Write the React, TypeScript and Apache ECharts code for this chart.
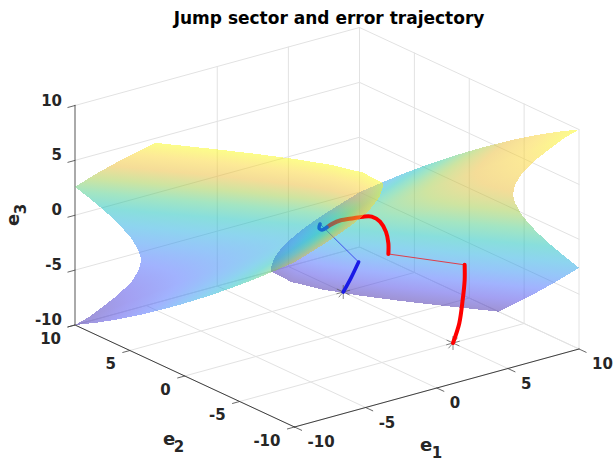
import React, { useEffect, useRef } from "react";
import * as echarts from "echarts";

const TITLE = "Jump sector and error trajectory";
const TICKS = [-10, -5, 0, 5, 10];
const LEFT_WALL_VERTICALS = [-10, 0, 5, 10];

// rim of the cone's nappes where they meet the box (e1, e2, e3); the apex is the origin
const LEFT_RIM = [
  [-10, 10, -10], [-10, 8, -8.86], [-10, 6, -7.61], [-10, 4, -6.28], [-10, 2, -4.86], [-10, 0, -3.38],
  [-10, -2, -1.83], [-10, -4, -0.22], [-10, -6, 1.46], [-10, -8, 3.21], [-10, -10, 5.01],
  [-9, -10, 5.45], [-8, -10, 5.9], [-7, -10, 6.39], [-6, -10, 6.96], [-5, -10, 7.67], [-4.5, -10, 8.16],
  [-4, -10, 8.88], [-3.8, -10, 9.58], [-3.78, -10, 10],
  [-3.65, -8, 10], [-4.32, -6, 10], [-5.39, -4, 10], [-6.66, -2, 10], [-8.05, 0, 10], [-9.5, 2, 10], [-10, 2.67, 10],
  [-10, 4, 8.74], [-10, 6, 6.79], [-10, 8, 4.75], [-10, 10, 2.6],
  [-9, 10, 1.21], [-8, 10, -0.22], [-7, 10, -1.76], [-6, 10, -3.58], [-5.5, 10, -4.93], [-5.35, 10, -5.7],
  [-5.5, 10, -6.54], [-6, 10, -7.44], [-7, 10, -8.35], [-8, 10, -8.99], [-9, 10, -9.61],
];
const RIGHT_RIM = [
  [10, -10, 10], [10, -8, 8.86], [10, -6, 7.61], [10, -4, 6.28], [10, -2, 4.86], [10, 0, 3.38],
  [10, 2, 1.83], [10, 4, 0.22], [10, 6, -1.46], [10, 8, -3.21], [10, 10, -5.01],
  [9, 10, -5.45], [8, 10, -5.9], [7, 10, -6.39], [6, 10, -6.96], [5, 10, -7.67], [4.5, 10, -8.16],
  [4, 10, -8.88], [3.8, 10, -9.58], [3.78, 10, -10],
  [3.65, 8, -10], [4.32, 6, -10], [5.39, 4, -10], [6.66, 2, -10], [8.05, 0, -10], [9.5, -2, -10], [10, -2.67, -10],
  [10, -4, -8.74], [10, -6, -6.79], [10, -8, -4.75], [10, -10, -2.6],
  [9, -10, -1.21], [8, -10, 0.22], [7, -10, 1.76], [6, -10, 3.58], [5.5, -10, 4.93], [5.35, -10, 5.7],
  [5.5, -10, 6.54], [6, -10, 7.44], [7, -10, 8.35], [8, -10, 8.99], [9, -10, 9.61],
];

// trajectories: continuous parts (thick) and the jumps between them (thin)
const RED_BEFORE = [[5, -5, -10], [4.98, -5.6, -7.91], [4.91, -6, -5.57], [4.74, -6.4, -3.52], [4.43, -6.8, -1.84]];
const RED_JUMP = [[4.43, -6.8, -1.84], [2.77, -2, -2.49]];
const RED_AFTER = [
  [2.77, -2, -2.49], [3.08, -1.6, -1.81], [3.22, -1.2, -1.01], [3.11, -0.8, -0.23], [2.68, -0.6, 0.29],
  [2.25, -0.4, 0.35], [1.7, -0.2, 0.31], [0.84, -0.1, 0.36], [0.33, 0, 0.17], [0, 0, 0],
];
const BLUE_BEFORE = [[5, 5, -10], [5.2, 4.56, -8.6], [5.4, 4.12, -7]];
const BLUE_JUMP = [[5.4, 4.12, -7], [-0.49, 0, 0.47]];
const BLUE_AFTER = [[-0.49, 0, 0.47], [-0.56, 0, 0.13], [-0.35, 0, -0.13], [0, 0, 0]];
const STARTS = [[5, 5, -10], [5, -5, -10]];

const PARULA = [
  [62, 38, 168], [71, 65, 229], [67, 102, 253], [45, 140, 243], [28, 170, 223], [18, 190, 185],
  [71, 203, 134], [158, 201, 66], [234, 186, 48], [250, 212, 46], [249, 251, 21],
];
const ALPHA = 0.5;

const WIDTH = 613;
const HEIGHT = 461;
const ORIGIN = [75, 325];
const STEP_E1 = [284.5, -78];
const STEP_E2 = [219.5, 102];
const STEP_E3 = 219.5;

function project(p: number[]) {
  const u = (p[0] + 10) / 20;
  const v = (10 - p[1]) / 20;
  const w = (p[2] + 10) / 20;
  return [
    ORIGIN[0] + STEP_E1[0] * u + STEP_E2[0] * v,
    ORIGIN[1] + STEP_E1[1] * u + STEP_E2[1] * v - STEP_E3 * w,
  ];
}

const stops = PARULA.map((c, i) => ({
  offset: i / (PARULA.length - 1),
  color: `rgba(${c[0]},${c[1]},${c[2]},${ALPHA})`,
}));

function solidColour(z: number) {
  const t = Math.max(0, Math.min(0.9999, (z + 10) / 20)) * (PARULA.length - 1);
  const i = Math.floor(t);
  const f = t - i;
  const c = PARULA[i].map((a, k) => Math.round(a + (PARULA[i + 1][k] - a) * f));
  return `rgba(${c[0]},${c[1]},${c[2]},${ALPHA})`;
}

// the colour is linear in e3, hence linear on each projected triangle: one exact gradient per facet
function facetFill(a: number[], b: number[], c: number[], pa: number[], pb: number[], pc: number[]) {
  const x1 = pb[0] - pa[0], y1 = pb[1] - pa[1], z1 = b[2] - a[2];
  const x2 = pc[0] - pa[0], y2 = pc[1] - pa[1], z2 = c[2] - a[2];
  const det = x1 * y2 - x2 * y1;
  if (Math.abs(det) < 3) return solidColour((a[2] + b[2] + c[2]) / 3);
  const gx = (z1 * y2 - z2 * y1) / det;
  const gy = (x1 * z2 - x2 * z1) / det;
  const n = gx * gx + gy * gy;
  if (n < 1e-7) return solidColour((a[2] + b[2] + c[2]) / 3);
  return {
    type: "linear",
    global: true,
    x: pa[0] + (gx * (-10 - a[2])) / n,
    y: pa[1] + (gy * (-10 - a[2])) / n,
    x2: pa[0] + (gx * (10 - a[2])) / n,
    y2: pa[1] + (gy * (10 - a[2])) / n,
    colorStops: stops,
  };
}

function sheetSeries(rim: number[][], z: number) {
  return {
    type: "custom",
    coordinateSystem: "cartesian2d",
    silent: true,
    clip: false,
    z,
    data: rim.map((_, i) => [i, 0]),
    encode: { x: 0, y: 1 },
    renderItem: (params: any, api: any) => {
      const i = params.dataIndex;
      const apex = [0, 0, 0];
      const a = rim[i];
      const b = rim[(i + 1) % rim.length];
      const pts = [apex, a, b].map((p) => {
        const q = project(p);
        return api.coord([q[0], q[1]]);
      });
      return {
        type: "polygon",
        shape: { points: pts },
        style: { fill: facetFill(apex, a, b, pts[0], pts[1], pts[2]) as any, stroke: "none" },
      };
    },
  };
}

function segmentSeries(segments: number[][][], stroke: string, lineWidth: number, z: number, smooth = 0) {
  return {
    type: "custom",
    coordinateSystem: "cartesian2d",
    silent: true,
    clip: false,
    z,
    data: segments.map((_, i) => [i, 0]),
    encode: { x: 0, y: 1 },
    renderItem: (params: any, api: any) => {
      const pts = segments[params.dataIndex].map((p) => {
        const q = project(p);
        return api.coord([q[0], q[1]]);
      });
      return {
        type: "polyline",
        shape: { points: pts, smooth },
        style: { fill: "none", stroke, lineWidth, lineCap: "round", lineJoin: "round" },
      };
    },
  };
}

function tickSegments() {
  const out: number[][][] = [];
  TICKS.forEach((t) => {
    out.push([[-10, t, -10], [-10.5, t, -10]]);
    out.push([[t, -10, -10], [t, -10.65, -10]]);
    out.push([[-10.5, 10, t], [-10, 10, t]]);
  });
  return out;
}

function gridSegments() {
  const out: number[][][] = [];
  TICKS.forEach((t) => {
    out.push([[t, 10, -10], [t, -10, -10]]);
    out.push([[-10, t, -10], [10, t, -10]]);
    out.push([[-10, 10, t], [10, 10, t]]);
    out.push([[10, t, -10], [10, t, 10]]);
    out.push([[10, 10, t], [10, -10, t]]);
  });
  LEFT_WALL_VERTICALS.forEach((t) => {
    out.push([[t, 10, -10], [t, 10, 10]]);
  });
  return out;
}

function starSegments() {
  const out: number[][][] = [];
  STARTS.forEach((s) => {
    out.push([[s[0] - 0.45, s[1], s[2]], [s[0] + 0.45, s[1], s[2]]]);
    out.push([[s[0], s[1], s[2] - 0.6], [s[0], s[1], s[2] + 0.6]]);
    out.push([[s[0], s[1] + 0.55, s[2]], [s[0], s[1] - 0.55, s[2]]]);
    out.push([[s[0] - 0.3, s[1], s[2] - 0.35], [s[0] + 0.3, s[1], s[2] + 0.35]]);
  });
  return out;
}

const FONT = "DejaVu Sans";
const INK = "#262626";

function labelElements() {
  const items: any[] = [];
  const add = (text: string, x: number, y: number, align: string, size: number, rotation = 0) =>
    items.push({
      type: "text",
      x,
      y,
      rotation,
      style: {
        text,
        fontFamily: FONT,
        fontWeight: "bold",
        fontSize: size,
        fill: INK,
        textAlign: align,
        textVerticalAlign: "middle",
      },
    });
  TICKS.forEach((t) => {
    const z = project([-10, 10, t]);
    add(String(t), z[0] - 13, z[1] - 5, "right", 15);
    const e2 = project([-10, t, -10]);
    add(String(t), e2[0] - 14, e2[1] + 13.5, "right", 15);
    const e1 = project([t, -10, -10]);
    add(String(t), e1[0] + 13, e1[1] + 15, "left", 15);
  });
  add("e", 169, 438, "center", 18);
  add("2", 179, 447, "center", 15);
  add("e", 426, 444, "center", 18);
  add("1", 437, 453, "center", 15);
  add("e", 12, 220, "center", 18, Math.PI / 2);
  add("3", 21, 209, "center", 15, Math.PI / 2);
  return items;
}

export default function App() {
  const ref = useRef<HTMLDivElement>(null);
  useEffect(() => {
    const chart = echarts.init(ref.current!, undefined, { renderer: "svg", width: WIDTH, height: HEIGHT });
    chart.setOption({
      animation: false,
      backgroundColor: "#ffffff",
      title: {
        text: TITLE,
        left: 324,
        top: 4,
        textAlign: "center",
        textStyle: { fontFamily: FONT, fontWeight: "bold", fontSize: 17, color: "#000000" },
      },
      grid: { left: 0, right: 0, top: 0, bottom: 0 },
      xAxis: { type: "value", min: 0, max: WIDTH, show: false },
      yAxis: { type: "value", min: 0, max: HEIGHT, inverse: true, show: false },
      graphic: labelElements(),
      series: [
        segmentSeries(gridSegments(), "#e2e2e2", 1, 1),
        sheetSeries(RIGHT_RIM, 2),
        segmentSeries([[[-10, 10, -10], [-10, -10, -10]], [[-10, -10, -10], [10, -10, -10]]], "#404040", 1, 3),
        segmentSeries([[[-10, 10, -10], [-10, 10, 10]]], "#8c8c8c", 1.4, 3),
        segmentSeries(tickSegments(), "#404040", 0.8, 3),
        segmentSeries(starSegments(), "#555555", 0.7, 3),
        segmentSeries([RED_JUMP], "#ff0000", 0.7, 4),
        segmentSeries([BLUE_JUMP], "#1a1ae6", 0.7, 4),
        segmentSeries([RED_BEFORE, RED_AFTER], "#ff0000", 4, 4, 0.3),
        segmentSeries([BLUE_BEFORE, BLUE_AFTER], "#1a1ae6", 3.6, 4, 0.3),
        sheetSeries(LEFT_RIM, 5),
      ],
    });
    return () => chart.dispose();
  }, []);
  return (
    <>
      <style>{`path[fill^="url"], path[fill^="rgb"][fill-opacity] { shape-rendering: crispEdges; }`}</style>
      <div ref={ref} style={{ position: "absolute", left: 0, top: 0, width: WIDTH, height: HEIGHT }} />
    </>
  );
}
